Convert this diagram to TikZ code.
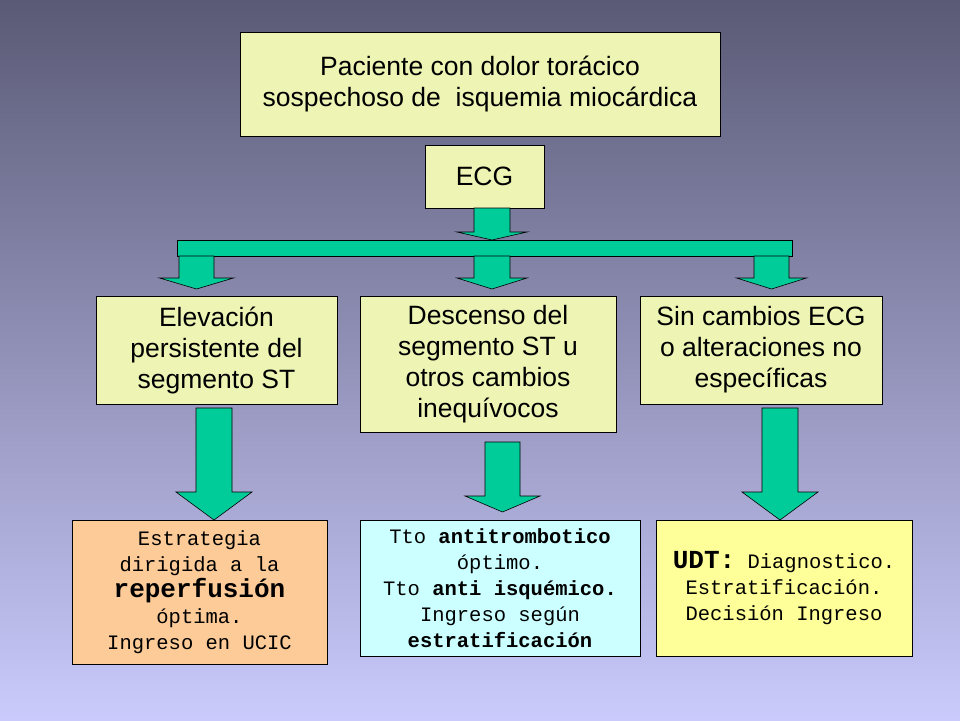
\documentclass[tikz,border=0pt]{standalone}
\usepackage{fontspec}
\setmainfont{Liberation Sans}
\setmonofont{Liberation Mono}
\usetikzlibrary{positioning}

\definecolor{boxfill}{HTML}{EEF5B4}
\definecolor{arrowgreen}{HTML}{00CC99}
\definecolor{orangefill}{HTML}{FCCB98}
\definecolor{cyanfill}{HTML}{CCFFFF}
\definecolor{yellowfill}{HTML}{FFFF99}

% block arrow: x, top y, head y, tip y, shaft half width, head half width
\newcommand{\blockarrow}[6]{%
  \draw[arrow] (#1-#5,#2) -- (#1+#5,#2) -- (#1+#5,#3) -- (#1+#6,#3)
    -- (#1,#4) -- (#1-#6,#3) -- (#1-#5,#3) -- cycle;}

\begin{document}
\begin{tikzpicture}[x=1pt, y=-1pt,
    box/.style   = {draw=black, fill=boxfill, align=center, inner sep=0pt, font=\fontsize{26.5}{31}\selectfont},
    result/.style = {draw=black, align=center, inner sep=0pt, font=\ttfamily\fontsize{20.5}{26}\selectfont},
    arrow/.style = {draw=black, fill=arrowgreen, line width=0.6pt}
  ]

    %% ---- background ----
    \shade[top color={rgb,255:red,90;green,90;blue,118}, bottom color={rgb,255:red,202;green,202;blue,252}]
      (0,0) rectangle (960,720);
    \useasboundingbox (0,0) rectangle (960,720);

    %% ---- top ----
    \node[box, minimum width=480pt, minimum height=104pt] (patient) at (480,84)
      {Paciente con dolor torácico\\sospechoso de\ \ isquemia miocárdica};
    \node[box, minimum width=119pt, minimum height=63pt] (ecg) at (484.5,176.5) {ECG};

    \blockarrow{492}{208}{232}{240}{18}{35}
    \draw[arrow] (177,240) rectangle (792,256);
    \blockarrow{196.5}{256}{278}{289}{17.5}{37}
    \blockarrow{492}{256}{278}{289}{18}{35}
    \blockarrow{771.5}{256}{278}{289}{17.5}{35}

    %% ---- ECG findings ----
    \node[box, minimum width=241pt, minimum height=108pt] (elev) at (216.5,350)
      {Elevación\\persistente del\\segmento ST};
    \node[box, minimum width=256pt, minimum height=136pt] (desc) at (488,364)
      {Descenso del\\segmento ST u\\otros cambios\\inequívocos};
    \node[box, minimum width=242pt, minimum height=108pt] (sinc) at (761,350)
      {Sin cambios ECG\\o alteraciones no\\específicas};

    \blockarrow{214}{408}{492}{520}{18}{38}
    \blockarrow{502.5}{442}{496}{512}{17.5}{37.5}
    \blockarrow{780}{408}{492}{520}{18}{38}

    %% ---- management ----
    \node[result, fill=orangefill, minimum width=255pt, minimum height=144pt] (reperf) at (199.5,592)
      {Estrategia\\dirigida a la\\{\bfseries\fontsize{26}{29}\selectfont reperfusión}\\óptima.\\Ingreso en UCIC};
    \node[result, fill=cyanfill, minimum width=280pt, minimum height=136pt] (antitr) at (500,588)
      {Tto \textbf{antitrombotico}\\óptimo.\\Tto \textbf{anti isquémico.}\\Ingreso según\\\textbf{estratificación}};
    \node[result, fill=yellowfill, minimum width=256pt, minimum height=136pt] (udt) at (784,588)
      {{\bfseries\fontsize{26}{29}\selectfont UDT:} Diagnostico.\\Estratificación.\\Decisión Ingreso};
  \end{tikzpicture}
\end{document}
